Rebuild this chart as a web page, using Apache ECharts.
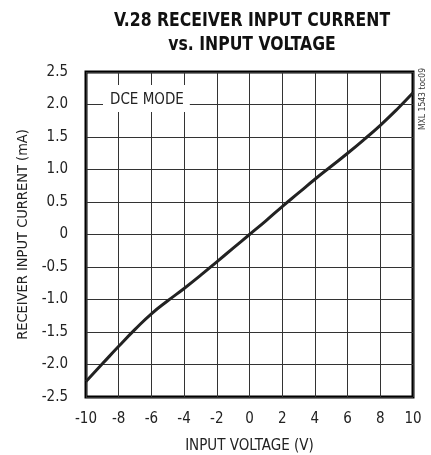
<!DOCTYPE html>
<html><head><meta charset="utf-8">
<script src="https://cdn.jsdelivr.net/npm/echarts@6/dist/echarts.min.js"></script>
<style>html,body{margin:0;padding:0;background:#fff}#c{width:431px;height:455px}</style>
</head><body><div id="c"></div>
<script>
const voltage = [-10, -9, -8, -7, -6, -5, -4, -3, -2, -1, 0, 1, 2, 3, 4, 5, 6, 7, 8, 9, 10];
const current = [-2.26, -1.99, -1.72, -1.46, -1.22, -1.02, -0.83, -0.63, -0.42, -0.21, 0, 0.21, 0.43, 0.64, 0.85, 1.05, 1.25, 1.46, 1.68, 1.92, 2.18];
const xTicks = [-10, 10, 2];
const yTicks = [-2.5, 2.5, 0.5];
const titleLines = ['V.28 RECEIVER INPUT CURRENT', 'vs. INPUT VOLTAGE'];
const font = '"DejaVu Sans Condensed", "Liberation Sans Narrow", sans-serif';
const chart = echarts.init(document.getElementById('c'));
chart.setOption({
  animation: false,
  grid: {left: 86, right: 18, top: 72, bottom: 58, outerBoundsMode: 'none', containLabel: false,
    show: true, borderColor: '#000', borderWidth: 3, backgroundColor: 'transparent'},
  xAxis: {
    type: 'value', min: xTicks[0], max: xTicks[1], interval: xTicks[2],
    name: 'INPUT VOLTAGE (V)', nameLocation: 'middle', nameGap: 42,
    nameTextStyle: {fontFamily: font, fontSize: 15, color: '#222'},
    axisLine: {show: false}, axisTick: {show: false},
    axisLabel: {fontFamily: font, fontSize: 15, color: '#222', margin: 15},
    splitLine: {show: true, lineStyle: {color: '#333', width: 1}}
  },
  yAxis: {
    type: 'value', min: yTicks[0], max: yTicks[1], interval: yTicks[2],
    name: 'RECEIVER INPUT CURRENT (mA)', nameLocation: 'middle', nameGap: 46,
    nameTextStyle: {fontFamily: font, fontSize: 14.5, color: '#222'},
    axisLine: {show: false}, axisTick: {show: false},
    axisLabel: {fontFamily: font, fontSize: 15, color: '#222', margin: 18,
      formatter: v => v === 0 ? '0' : v.toFixed(1)},
    splitLine: {show: true, lineStyle: {color: '#333', width: 1}}
  },
  series: [{
    type: 'line', data: voltage.map((v, i) => [v, current[i]]),
    showSymbol: false, smooth: true,
    lineStyle: {color: '#222', width: 3}
  }],
  graphic: [
    {type: 'text', x: 252, y: 21, scaleX: 0.87, scaleY: 1, z: 100,
      style: {text: titleLines[0], fontFamily: font, fontWeight: 'bold', fontSize: 20,
        fill: '#111', align: 'center', verticalAlign: 'middle'}},
    {type: 'text', x: 252, y: 44.5, scaleX: 0.87, scaleY: 1, z: 100,
      style: {text: titleLines[1], fontFamily: font, fontWeight: 'bold', fontSize: 20,
        fill: '#111', align: 'center', verticalAlign: 'middle'}},
    {type: 'text', left: 103, top: 85, z: 100,
      style: {text: 'DCE MODE', fontFamily: font, fontSize: 15, lineHeight: 17, fill: '#222',
        backgroundColor: '#fff', padding: [7, 6, 3, 7]}},
    {type: 'text', x: 418, y: 130, rotation: Math.PI / 2, z: 100,
      style: {text: 'MXL 1543 toc09', fontFamily: font, fontSize: 8.5, fill: '#333'}}
  ]
});
</script></body></html>
